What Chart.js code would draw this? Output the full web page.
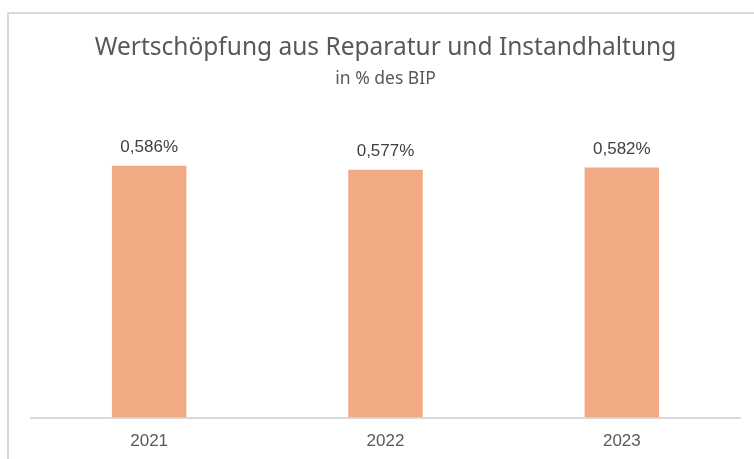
<!DOCTYPE html>
<html>
<head>
<meta charset="utf-8">
<script src="https://cdn.jsdelivr.net/npm/chart.js@4"></script>
<style>
  html, body { margin: 0; padding: 0; background: #fff; overflow: hidden; }
  #wrap { position: absolute; left: 0; top: 0; width: 754px; height: 459px; }
  #frame { position: absolute; left: 7px; top: 12px; width: 800px; height: 500px;
           border-left: 2px solid #d9d9d9; border-top: 2px solid #d9d9d9; }
</style>
</head>
<body>
<div id="wrap">
  <div id="frame"></div>
  <canvas id="myChart" width="754" height="459"></canvas>
</div>
<script>
const years = ["2021", "2022", "2023"];
const shares = [0.586, 0.577, 0.582];

// values over the bars, German decimal comma
const barLabels = {
  id: "barLabels",
  afterDatasetsDraw(chart) {
    const { ctx } = chart;
    const meta = chart.getDatasetMeta(0);
    ctx.save();
    ctx.font = "17px 'Liberation Sans', Arial, sans-serif";
    ctx.fillStyle = "#404040";
    ctx.textAlign = "center";
    ctx.textBaseline = "bottom";
    meta.data.forEach((bar, i) => {
      const txt = shares[i].toFixed(3).replace(".", ",") + "%";
      ctx.fillText(txt, bar.x, bar.y - 10);
    });
    ctx.restore();
  },
};

const ctx = document.getElementById("myChart");

new Chart(ctx, {
  type: "bar",
  data: {
    labels: years,
    datasets: [
      {
        data: shares,
        backgroundColor: "#f2aa84",
        borderWidth: 0,
        categoryPercentage: 1,
        barPercentage: 0.315,
      },
    ],
  },
  options: {
    responsive: false,
    animation: false,
    layout: { padding: { left: 31, right: 14, top: 33, bottom: -7 } },
    plugins: {
      legend: { display: false },
      tooltip: { enabled: false },
      title: {
        display: true,
        text: "Wertschöpfung aus Reparatur und Instandhaltung",
        color: "#595959",
        font: { family: "'Noto Sans', sans-serif", size: 24.5, weight: "normal" },
        padding: { top: 0, bottom: 6 },
      },
      subtitle: {
        display: true,
        text: "in % des BIP",
        color: "#595959",
        font: { family: "'Noto Sans', sans-serif", size: 17.5, weight: "normal" },
        padding: { top: 0, bottom: 27.5 },
      },
    },
    scales: {
      x: {
        grid: { display: false, drawTicks: false },
        border: { display: true, color: "#d9d9d9", width: 2 },
        ticks: {
          color: "#595959",
          padding: 14,
          font: { family: "'Liberation Sans', Arial, sans-serif", size: 17 },
        },
      },
      y: {
        display: false,
        min: 0,
        max: 0.7,
      },
    },
  },
  plugins: [barLabels],
});
</script>
</body>
</html>
